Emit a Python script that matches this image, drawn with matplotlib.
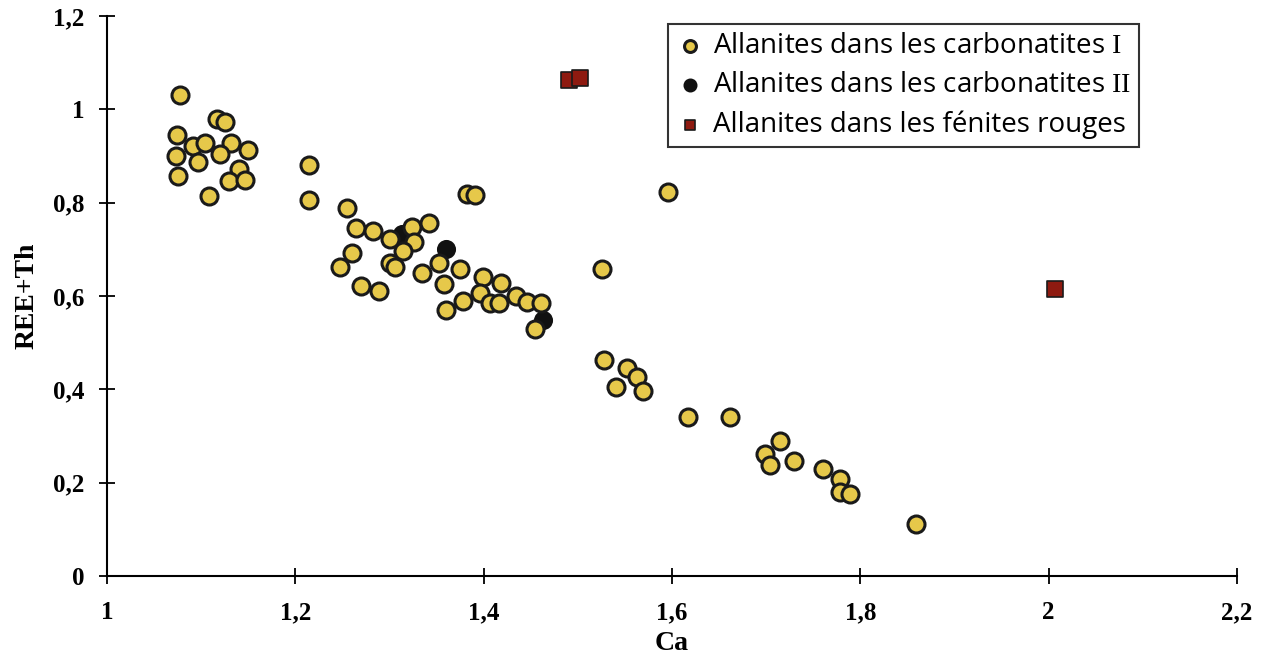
import numpy as np
from matplotlib import pyplot as plt

plt.rcParams['mathtext.fontset'] = 'custom'
plt.rcParams['mathtext.rm'] = 'Liberation Serif'

# Allanites dans les carbonatites I
ca_1 = [1.078, 1.117, 1.125, 1.074, 1.091, 1.104, 1.132, 1.150, 1.120, 1.073,
        1.097, 1.140, 1.075, 1.130, 1.147, 1.108, 1.214, 1.214, 1.255, 1.264,
        1.282, 1.300, 1.324, 1.342, 1.326, 1.314, 1.260, 1.247, 1.300, 1.306,
        1.270, 1.289, 1.382, 1.391, 1.353, 1.335, 1.375, 1.358, 1.399, 1.418,
        1.396, 1.378, 1.407, 1.416, 1.434, 1.446, 1.461, 1.455, 1.360, 1.596,
        1.526, 1.528, 1.552, 1.563, 1.540, 1.569, 1.617, 1.662, 1.715, 1.699,
        1.704, 1.730, 1.760, 1.778, 1.778, 1.789, 1.859]
ree_1 = [1.031, 0.979, 0.974, 0.945, 0.921, 0.927, 0.927, 0.913, 0.904, 0.901,
         0.888, 0.872, 0.858, 0.846, 0.849, 0.815, 0.881, 0.806, 0.789, 0.746,
         0.740, 0.722, 0.749, 0.756, 0.716, 0.696, 0.693, 0.663, 0.670, 0.663,
         0.622, 0.611, 0.818, 0.816, 0.671, 0.650, 0.657, 0.625, 0.641, 0.627,
         0.606, 0.590, 0.586, 0.586, 0.599, 0.588, 0.584, 0.529, 0.569, 0.822,
         0.659, 0.463, 0.445, 0.427, 0.406, 0.397, 0.341, 0.340, 0.290, 0.261,
         0.238, 0.247, 0.229, 0.207, 0.179, 0.175, 0.111]

# Allanites dans les carbonatites II
ca_2 = [1.313, 1.360, 1.463]
ree_2 = [0.732, 0.700, 0.549]

# Allanites dans les fénites rouges
ca_3 = [1.491, 1.502, 2.007]
ree_3 = [1.063, 1.067, 0.615]

labels = ['Allanites dans les carbonatites $\\mathrm{I}$',
          'Allanites dans les carbonatites $\\mathrm{II}$',
          'Allanites dans les fénites rouges']

xticks = [1, 1.2, 1.4, 1.6, 1.8, 2, 2.2]
xtick_labels = ['1', '1,2', '1,4', '1,6', '1,8', '2', '2,2']
yticks = [0, 0.2, 0.4, 0.6, 0.8, 1, 1.2]
ytick_labels = ['0', '0,2', '0,4', '0,6', '0,8', '1', '1,2']

fig = plt.figure(figsize=(12.62, 6.69), dpi=100)
ax = fig.add_axes([0.0848, 0.139, 0.8954, 0.837])

ax.scatter(ca_1, ree_1, s=150, color='#E6C84A', edgecolors='#1a1a1a',
           linewidths=2.2, zorder=3, label=labels[0])
ax.scatter(ca_2, ree_2, s=150, color='#111111', edgecolors='#111111',
           linewidths=1.5, zorder=2, label=labels[1])
ax.scatter(ca_3, ree_3, s=120, marker='s', color='#8E1A10', edgecolors='#1a1a1a',
           linewidths=1.2, zorder=3, label=labels[2])

ax.set_xlim(1, 2.2)
ax.set_ylim(0, 1.2)
tick_font = dict(fontfamily='Liberation Serif', fontweight='bold', fontsize=18)
ax.set_xticks(xticks, xtick_labels, **tick_font)
ax.set_yticks(yticks, ytick_labels, **tick_font)

ax.spines['top'].set_visible(False)
ax.spines['right'].set_visible(False)
ax.spines['left'].set_linewidth(1.5)
ax.spines['bottom'].set_linewidth(1.5)
ax.tick_params(axis='x', direction='inout', length=12, width=1.3, pad=12)
ax.tick_params(axis='y', direction='inout', length=12, width=1.3, pad=10)

ax.set_xlabel('Ca', fontfamily='Liberation Serif', fontweight='bold', fontsize=20, labelpad=5)
ax.set_ylabel('REE+Th', fontfamily='Liberation Serif', fontweight='bold', fontsize=20, labelpad=10)

leg = ax.legend(loc='upper left', bbox_to_anchor=(0.4965, 0.986), frameon=True, fancybox=False,
                edgecolor='black', prop={'family': 'Open Sans', 'size': 20},
                markerscale=0.7, handletextpad=0.3, labelspacing=0.4,
                borderpad=0.3, handlelength=1.0, borderaxespad=0)
leg.get_frame().set_linewidth(1.5)

plt.savefig('out.png', dpi=100)
